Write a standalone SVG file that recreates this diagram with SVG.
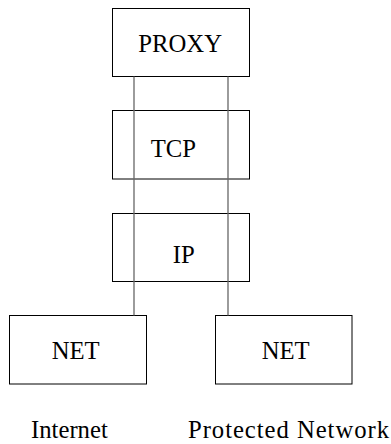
<svg xmlns="http://www.w3.org/2000/svg" width="391" height="444" viewBox="0 0 391 444">
<style>
.box{fill:#fff;stroke:#000;stroke-width:1}
.ln{stroke:#666;stroke-width:1.3;fill:none}
</style>
<rect width="391" height="444" fill="#fff"/>
<g font-family="Liberation Serif, Times New Roman, serif" font-size="24.7" fill="#000">
<g id="proxy"><rect class="box" x="112.5" y="8.5" width="137" height="68"/><text x="138.3" y="52">PROXY</text></g>
<g id="tcp"><rect class="box" x="112.5" y="110.5" width="137" height="68.5"/><text x="150.7" y="157">TCP</text></g>
<g id="ip"><rect class="box" x="112.5" y="213.5" width="137" height="68"/><text x="172.7" y="263">IP</text></g>
<g id="net1"><rect class="box" x="9.5" y="315.5" width="137" height="68.5"/><text x="51.7" y="359">NET</text></g>
<g id="net2"><rect class="box" x="215.5" y="315.5" width="136.5" height="68.5"/><text x="261.7" y="359">NET</text></g>
<g id="connectors">
<line class="ln" x1="134" y1="76.5" x2="134" y2="315.5"/>
<line class="ln" x1="228" y1="76.5" x2="228" y2="315.5"/>
</g>
<g id="labels">
<text x="31" y="438">Internet</text>
<text x="188" y="438" textLength="201">Protected Network</text>
</g>
</g>
</svg>
